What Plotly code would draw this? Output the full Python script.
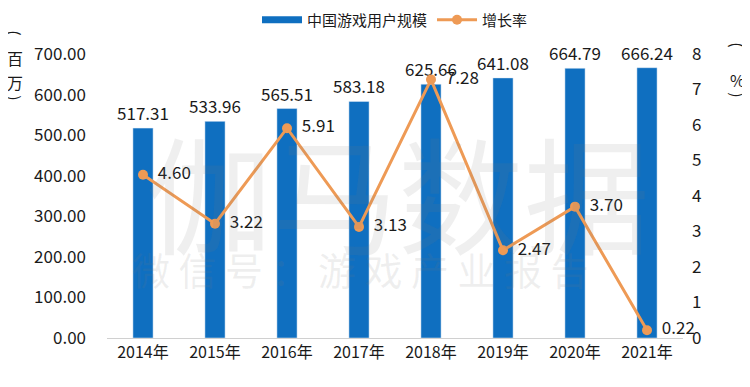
import plotly.graph_objects as go

years = ["2014年", "2015年", "2016年", "2017年", "2018年", "2019年", "2020年", "2021年"]
users = [517.31, 533.96, 565.51, 583.18, 625.66, 641.08, 664.79, 666.24]
growth = [4.60, 3.22, 5.91, 3.13, 7.28, 2.47, 3.70, 0.22]
left_ticks = [0, 100, 200, 300, 400, 500, 600, 700]
right_ticks = [0, 1, 2, 3, 4, 5, 6, 7, 8]

FONT = "Noto Sans CJK SC, Noto Sans, sans-serif"
BLUE = "#0F6FC0"
ORANGE = "#EE9A55"
TXT = "#1a1a1a"

fig = go.Figure()
fig.add_trace(go.Bar(
    x=years, y=users, name="中国游戏用户规模", marker_color=BLUE, width=0.28,
    text=[f"{v:.2f}" for v in users], textposition="outside", constraintext="none",
    textfont=dict(size=17, color=TXT, family=FONT), cliponaxis=False, showlegend=False,
))
# legend proxy for the bar series (wide rectangle swatch)
fig.add_trace(go.Scatter(
    x=[None], y=[None], name="中国游戏用户规模", mode="lines",
    line=dict(color=BLUE, width=7), showlegend=True,
))
fig.add_trace(go.Scatter(
    x=years, y=growth, name="增长率", yaxis="y2", mode="lines+markers+text",
    line=dict(color=ORANGE, width=3), marker=dict(color=ORANGE, size=10),
    text=["  " + f"{v:.2f}" for v in growth], textposition="middle right",
    textfont=dict(size=17, color=TXT, family=FONT), cliponaxis=False,
))

# page has an 8px body margin, so the figure is 742x379 and offsets are in screen px
PH = 330.0  # paper height in px (379 - bottom margin)
DOM_TOP = 284.0 / PH


def py(screen_y):
    return (338.0 - screen_y) / PH


fig.update_layout(
    width=742, height=379, plot_bgcolor="white", paper_bgcolor="white",
    margin=dict(l=99, r=67, t=0, b=49, autoexpand=False),
    font=dict(family=FONT, color=TXT),
    showlegend=True,
    legend=dict(orientation="h", x=0.5, xanchor="center", y=py(20), yanchor="middle",
                font=dict(size=15, family=FONT), traceorder="normal", itemwidth=40),
    xaxis=dict(showline=True, linecolor="#D0D0D0", linewidth=1, ticks="", automargin=False,
               tickfont=dict(size=16, family=FONT, color=TXT), range=[-0.5, 7.5]),
    yaxis=dict(range=[0, 700], domain=[0, DOM_TOP], tickvals=left_ticks,
               ticktext=[f"{v:.2f}" for v in left_ticks], automargin=False,
               showgrid=False, zeroline=False, tickfont=dict(size=17, family=FONT, color=TXT),
               ticklabelstandoff=20),
    yaxis2=dict(range=[0, 8], tickvals=right_ticks, overlaying="y", side="right", automargin=False,
                showgrid=False, zeroline=False, tickfont=dict(size=17, family=FONT, color=TXT),
                ticklabelstandoff=8),
    bargap=0.72,
)


def title_piece(text, x, ypx, angle=0):
    fig.add_annotation(text=text, xref="paper", yref="paper", x=x, y=py(ypx),
                       xanchor="center", yanchor="middle", showarrow=False, textangle=angle,
                       font=dict(size=16, family=FONT, color=TXT))


# left axis title (百万), written vertically
title_piece("(", -0.160, 33, 90)
title_piece("百", -0.160, 58)
title_piece("万", -0.160, 82)
title_piece(")", -0.160, 98, 90)
# right axis title (%), written vertically
title_piece("(", 1.095, 45, 90)
title_piece("%", 1.095, 80)
title_piece(")", 1.095, 95, 90)

fig.add_annotation(text="伽马数据", xref="paper", yref="paper", x=0.505, y=py(190),
                   showarrow=False, font=dict(size=126, family=FONT, color="rgba(120,120,120,0.12)"))
fig.add_annotation(text="微 信 号 ： 游 戏 产 业 报 告", xref="paper", yref="paper", x=0.44, y=py(298),
                   showarrow=False, font=dict(size=38, family=FONT, color="rgba(120,120,120,0.12)"))

fig.write_html("out.html")
